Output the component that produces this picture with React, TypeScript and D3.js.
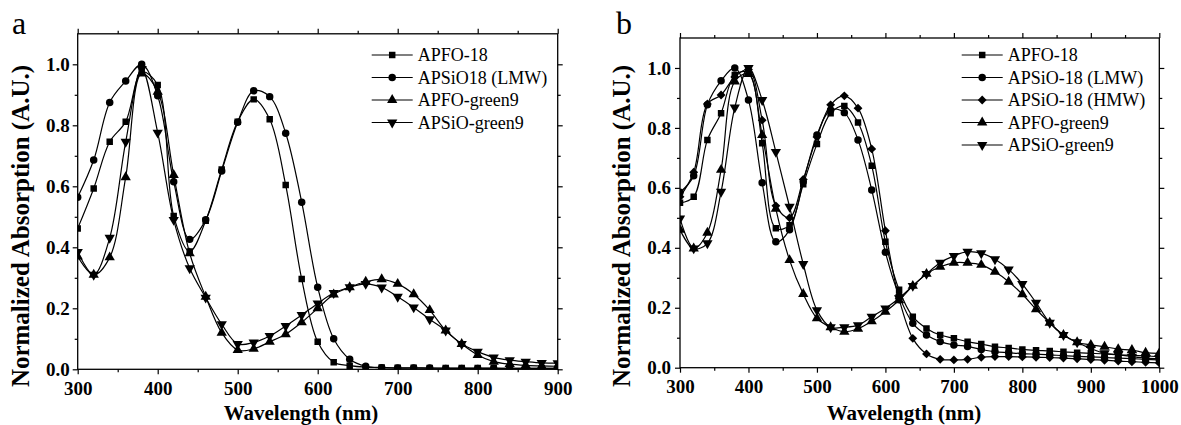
import React, { useEffect, useRef } from 'react'
import * as d3 from 'd3'

// panel a: wavelengths (nm) where the markers sit
const waveA = [300, 320, 340, 360, 380, 400, 420, 440, 460, 480, 500, 520, 540, 560, 580, 600, 620, 640, 660, 680, 700, 720, 740, 760, 780, 800, 820, 840, 860, 880, 900]
const apfo18A = [0.462, 0.593, 0.746, 0.812, 0.975, 0.932, 0.503, 0.386, 0.487, 0.655, 0.812, 0.885, 0.82, 0.604, 0.296, 0.09, 0.023, 0.012, 0.007, 0.006, 0.005, 0.005, 0.004, 0.004, 0.004, 0.004, 0.004, 0.003, 0.003, 0.003, 0.003]
const apsio18A = [0.564, 0.686, 0.875, 0.945, 1.0, 0.897, 0.615, 0.426, 0.49, 0.65, 0.81, 0.913, 0.894, 0.774, 0.548, 0.269, 0.1, 0.033, 0.01, 0.005, 0.004, 0.004, 0.004, 0.003, 0.003, 0.003, 0.003, 0.003, 0.003, 0.003, 0.003]
const apfoG9A = [0.37, 0.31, 0.367, 0.63, 0.97, 0.91, 0.637, 0.38, 0.238, 0.12, 0.063, 0.067, 0.09, 0.115, 0.154, 0.2, 0.245, 0.269, 0.287, 0.295, 0.28, 0.246, 0.194, 0.127, 0.083, 0.047, 0.025, 0.017, 0.013, 0.011, 0.01]
const apsioG9A = [0.385, 0.31, 0.431, 0.746, 0.985, 0.776, 0.49, 0.331, 0.235, 0.148, 0.083, 0.088, 0.109, 0.142, 0.178, 0.216, 0.25, 0.269, 0.28, 0.268, 0.238, 0.203, 0.164, 0.127, 0.083, 0.058, 0.039, 0.03, 0.025, 0.021, 0.02]

// panel b
const waveB = [300, 320, 340, 360, 380, 400, 420, 440, 460, 480, 500, 520, 540, 560, 580, 600, 620, 640, 660, 680, 700, 720, 740, 760, 780, 800, 820, 840, 860, 880, 900, 920, 940, 960, 980, 1000]
const apfo18B = [0.55, 0.57, 0.76, 0.849, 0.977, 0.984, 0.749, 0.465, 0.475, 0.612, 0.746, 0.849, 0.873, 0.818, 0.674, 0.42, 0.26, 0.17, 0.131, 0.109, 0.098, 0.087, 0.079, 0.07, 0.066, 0.061, 0.058, 0.056, 0.053, 0.05, 0.048, 0.046, 0.043, 0.041, 0.039, 0.037]
const apsioLB = [0.585, 0.64, 0.877, 0.957, 1.0, 0.893, 0.617, 0.42, 0.46, 0.62, 0.776, 0.86, 0.851, 0.76, 0.593, 0.385, 0.24, 0.148, 0.109, 0.087, 0.076, 0.071, 0.061, 0.053, 0.05, 0.047, 0.045, 0.043, 0.04, 0.038, 0.036, 0.034, 0.032, 0.03, 0.028, 0.026]
const apsioHB = [0.57, 0.652, 0.88, 0.91, 0.97, 0.995, 0.826, 0.54, 0.5, 0.628, 0.77, 0.877, 0.907, 0.866, 0.73, 0.457, 0.23, 0.098, 0.046, 0.028, 0.026, 0.028, 0.035, 0.037, 0.037, 0.036, 0.035, 0.034, 0.032, 0.03, 0.027, 0.025, 0.022, 0.02, 0.018, 0.016]
const apfoG9B = [0.46, 0.398, 0.45, 0.66, 0.955, 0.98, 0.776, 0.53, 0.359, 0.246, 0.165, 0.135, 0.12, 0.13, 0.155, 0.187, 0.225, 0.273, 0.313, 0.337, 0.35, 0.35, 0.343, 0.32, 0.287, 0.245, 0.195, 0.15, 0.109, 0.085, 0.076, 0.07, 0.062, 0.059, 0.05, 0.048]
const apsioG9B = [0.498, 0.398, 0.415, 0.587, 0.868, 1.0, 0.893, 0.72, 0.537, 0.346, 0.192, 0.135, 0.135, 0.142, 0.17, 0.198, 0.232, 0.273, 0.313, 0.35, 0.373, 0.387, 0.382, 0.362, 0.328, 0.279, 0.217, 0.15, 0.109, 0.085, 0.064, 0.048, 0.043, 0.037, 0.032, 0.03]

const xMajorA = [300, 400, 500, 600, 700, 800, 900]
const xMinorA = [350, 450, 550, 650, 750, 850]
const xMajorB = [300, 400, 500, 600, 700, 800, 900, 1000]
const xMinorB = [350, 450, 550, 650, 750, 850, 950]
const yMajor = [0, 0.2, 0.4, 0.6, 0.8, 1.0]
const yMinor = [0.1, 0.3, 0.5, 0.7, 0.9]

const seriesA = [
  { name: 'APFO-18', values: apfo18A, marker: 'square' },
  { name: 'APSiO18 (LMW)', values: apsio18A, marker: 'circle' },
  { name: 'APFO-green9', values: apfoG9A, marker: 'up' },
  { name: 'APSiO-green9', values: apsioG9A, marker: 'down' },
]
const seriesB = [
  { name: 'APFO-18', values: apfo18B, marker: 'square' },
  { name: 'APSiO-18 (LMW)', values: apsioLB, marker: 'circle' },
  { name: 'APSiO-18 (HMW)', values: apsioHB, marker: 'diamond' },
  { name: 'APFO-green9', values: apfoG9B, marker: 'up' },
  { name: 'APSiO-green9', values: apsioG9B, marker: 'down' },
]

const FONT = "'Liberation Serif', 'Times New Roman', serif"

const markerPath = (m: string) => {
  if (m === 'square') return d3.symbol(d3.symbolSquare, 42)()
  if (m === 'circle') return d3.symbol(d3.symbolCircle, 44)()
  if (m === 'diamond') return d3.symbol(d3.symbolDiamond2, 50)()
  return d3.symbol(d3.symbolTriangle, 46)()
}
const markerRot = (m: string) => (m === 'down' ? ' rotate(180)' : '')

function drawPanel(svg, cfg) {
  const g = svg.append('g')
  const x = d3.scaleLinear().domain(cfg.xDomain).range([cfg.left, cfg.right])
  const y = d3.scaleLinear().domain([0, 1.1]).range([cfg.bottom, cfg.top])

  const clipId = 'clip-' + cfg.id
  svg.append('clipPath').attr('id', clipId)
    .append('rect')
    .attr('x', cfg.left).attr('y', cfg.top)
    .attr('width', cfg.right - cfg.left).attr('height', cfg.bottom - cfg.top)

  const tickStyle = sel => {
    sel.select('.domain').remove()
    sel.selectAll('line').attr('stroke', '#000').attr('stroke-width', 1.2)
    sel.selectAll('text')
      .attr('font-family', FONT).attr('font-weight', 'bold')
      .attr('font-size', 19).attr('fill', '#000')
  }

  // bottom
  g.append('g').attr('transform', `translate(0,${cfg.bottom})`)
    .call(d3.axisBottom(x).tickValues(cfg.xMajor).tickSize(5).tickPadding(7).tickFormat(d3.format('d')))
    .call(tickStyle)
  g.append('g').attr('transform', `translate(0,${cfg.bottom})`)
    .call(d3.axisBottom(x).tickValues(cfg.xMinor).tickSize(3).tickFormat(() => ''))
    .call(tickStyle)
  // top
  g.append('g').attr('transform', `translate(0,${cfg.top})`)
    .call(d3.axisTop(x).tickValues(cfg.xMajor).tickSize(5).tickFormat(() => ''))
    .call(tickStyle)
  g.append('g').attr('transform', `translate(0,${cfg.top})`)
    .call(d3.axisTop(x).tickValues(cfg.xMinor).tickSize(3).tickFormat(() => ''))
    .call(tickStyle)
  // left
  g.append('g').attr('transform', `translate(${cfg.left},0)`)
    .call(d3.axisLeft(y).tickValues(yMajor).tickSize(5).tickPadding(cfg.yPad).tickFormat(d3.format('.1f')))
    .call(tickStyle)
  g.append('g').attr('transform', `translate(${cfg.left},0)`)
    .call(d3.axisLeft(y).tickValues(yMinor).tickSize(3).tickFormat(() => ''))
    .call(tickStyle)
  // right
  g.append('g').attr('transform', `translate(${cfg.right},0)`)
    .call(d3.axisRight(y).tickValues(yMajor).tickSize(5).tickFormat(() => ''))
    .call(tickStyle)
  g.append('g').attr('transform', `translate(${cfg.right},0)`)
    .call(d3.axisRight(y).tickValues(yMinor).tickSize(3).tickFormat(() => ''))
    .call(tickStyle)

  g.append('rect')
    .attr('x', cfg.left).attr('y', cfg.top)
    .attr('width', cfg.right - cfg.left).attr('height', cfg.bottom - cfg.top)
    .attr('fill', 'none').attr('stroke', '#000').attr('stroke-width', 1.3)

  const line = d3.line<number>()
    .x((d, i) => x(cfg.wave[i]))
    .y(d => y(d))
    .curve(d3.curveCatmullRom.alpha(0.5))

  const plot = g.append('g').attr('clip-path', `url(#${clipId})`)
  cfg.series.forEach(s => {
    plot.append('path')
      .attr('d', line(s.values))
      .attr('fill', 'none').attr('stroke', '#000').attr('stroke-width', 1.2)
    plot.selectAll(null)
      .data(s.values)
      .enter()
      .append('path')
      .attr('d', markerPath(s.marker))
      .attr('transform', (d, i) => `translate(${x(cfg.wave[i])},${y(d)})${markerRot(s.marker)}`)
      .attr('fill', '#000')
  })

  // legend
  cfg.series.forEach((s, i) => {
    const ly = 55 + i * 22.5
    g.append('line')
      .attr('x1', cfg.legendX).attr('x2', cfg.legendX + 41)
      .attr('y1', ly).attr('y2', ly)
      .attr('stroke', '#000').attr('stroke-width', 1.2)
    g.append('path')
      .attr('d', markerPath(s.marker))
      .attr('transform', `translate(${cfg.legendX + 20.5},${ly})${markerRot(s.marker)}`)
      .attr('fill', '#000')
    g.append('text')
      .attr('x', cfg.legendX + 46).attr('y', ly).attr('dy', '0.35em')
      .attr('font-family', FONT).attr('font-size', 18).attr('fill', '#000')
      .text(s.name)
  })

  // titles
  g.append('text')
    .attr('x', cfg.xTitleX).attr('y', 420)
    .attr('text-anchor', 'middle')
    .attr('font-family', FONT).attr('font-weight', 'bold').attr('font-size', 21)
    .text('Wavelength (nm)')
  g.append('text')
    .attr('transform', `translate(${cfg.yTitleX},226) rotate(-90)`)
    .attr('text-anchor', 'middle')
    .attr('font-family', FONT).attr('font-weight', 'bold').attr('font-size', 25)
    .text('Normalized Absorption (A.U.)')
  g.append('text')
    .attr('x', cfg.labelX).attr('y', 34)
    .attr('font-family', FONT).attr('font-size', 32)
    .text(cfg.label)
}

const App = () => {
  const ref = useRef(null)

  useEffect(() => {
    const svg = d3.select(ref.current)
    svg.selectAll('*').remove()
    drawPanel(svg, {
      id: 'a', label: 'a', labelX: 12,
      left: 77.7, right: 557.7, top: 33.8, bottom: 369.3,
      xDomain: [300, 900], xMajor: xMajorA, xMinor: xMinorA,
      wave: waveA, series: seriesA, yPad: 3,
      legendX: 371.7, xTitleX: 301, yTitleX: 29,
    })
    drawPanel(svg, {
      id: 'b', label: 'b', labelX: 616,
      left: 680, right: 1159.3, top: 38, bottom: 367.7,
      xDomain: [300, 1000], xMajor: xMajorB, xMinor: xMinorB,
      wave: waveB, series: seriesB, yPad: 4,
      legendX: 961.7, xTitleX: 904, yTitleX: 630,
    })
  }, [])

  return (
    <svg
      ref={ref}
      width={1181}
      height={425}
      style={{ position: 'absolute', left: 0, top: 0, background: '#fff' }}
    />
  )
}

export default App
